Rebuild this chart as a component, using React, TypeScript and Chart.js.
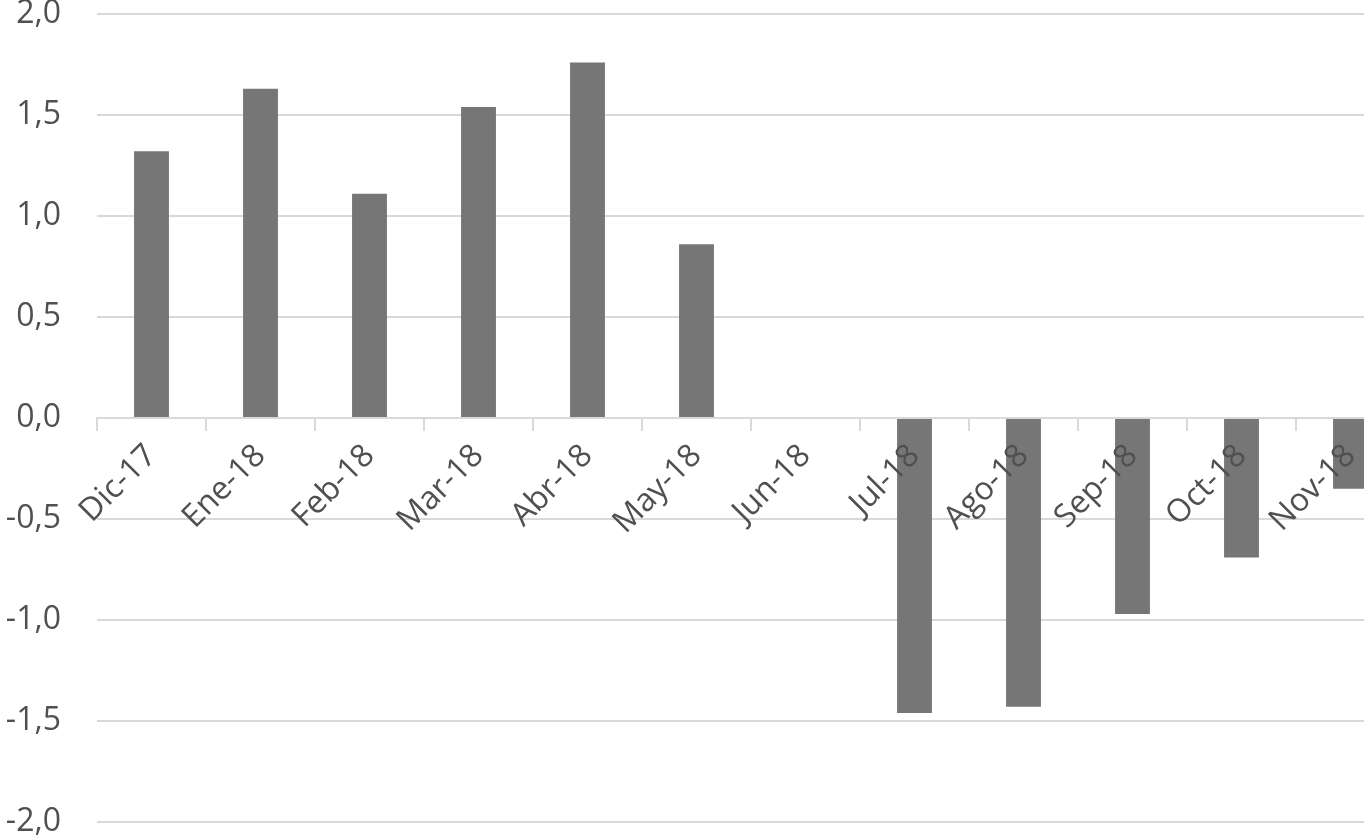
import React, { useEffect, useRef } from "react";
import { Chart, registerables } from "chart.js";

Chart.register(...registerables);

const categories = ["Dic-17", "Ene-18", "Feb-18", "Mar-18", "Abr-18", "May-18", "Jun-18", "Jul-18", "Ago-18", "Sep-18", "Oct-18", "Nov-18"];
const values = [1.32, 1.63, 1.11, 1.54, 1.76, 0.86, 0, -1.46, -1.43, -0.97, -0.69, -0.35];
const yMin = -2;
const yMax = 2;
const yStep = 0.5;

const FONT = "'Open Sans', sans-serif";
const TEXT = "#505050";
const GRID = "#d9d9d9";

export default function App() {
  const ref = useRef<HTMLCanvasElement | null>(null);
  useEffect(() => {
    document.body.style.margin = "0";
    const ctx = ref.current!;
    const chart = new Chart(ctx, {
      type: "bar",
      data: {
        labels: categories,
        datasets: [
          {
            data: values,
            backgroundColor: "#767676",
            borderWidth: 0,
            categoryPercentage: 1,
            barPercentage: 0.32,
          },
        ],
      },
      options: {
        responsive: false,
        animation: false,
        devicePixelRatio: 1,
        layout: { padding: { top: 14, bottom: 17, left: 0, right: 0 } },
        plugins: { legend: { display: false }, tooltip: { enabled: false } },
        scales: {
          x: {
            position: { y: 0 },
            afterFit: (s: any) => {
              s.height = 0;
              s.paddingLeft = 0;
              s.paddingRight = 0;
            },
            grid: {
              drawOnChartArea: false,
              drawTicks: true,
              tickLength: 12,
              color: GRID,
              lineWidth: 2,
              offset: true,
            },
            border: { display: true, color: GRID, width: 2 },
            ticks: {
              z: 1,
              color: TEXT,
              font: { family: FONT, size: 32 },
              maxRotation: 45,
              minRotation: 45,
              padding: 7,
              autoSkip: false,
            },
          },
          y: {
            min: yMin,
            max: yMax,
            afterFit: (s: any) => {
              s.width = 97;
              s.paddingTop = 0;
              s.paddingBottom = 0;
            },
            grid: { color: GRID, lineWidth: 2, drawTicks: false },
            border: { display: false },
            ticks: {
              stepSize: yStep,
              color: TEXT,
              font: { family: FONT, size: 32 },
              padding: 36,
              callback: (v: any) => Number(v).toFixed(1).replace(".", ","),
            },
          },
        },
      },
    });
    return () => chart.destroy();
  }, []);
  return (
    <div style={{ position: "fixed", left: 0, top: 0, width: 1364, height: 839, overflow: "hidden", background: "#fff" }}>
      <canvas ref={ref} width={1405} height={839} style={{ display: "block" }} />
    </div>
  );
}
